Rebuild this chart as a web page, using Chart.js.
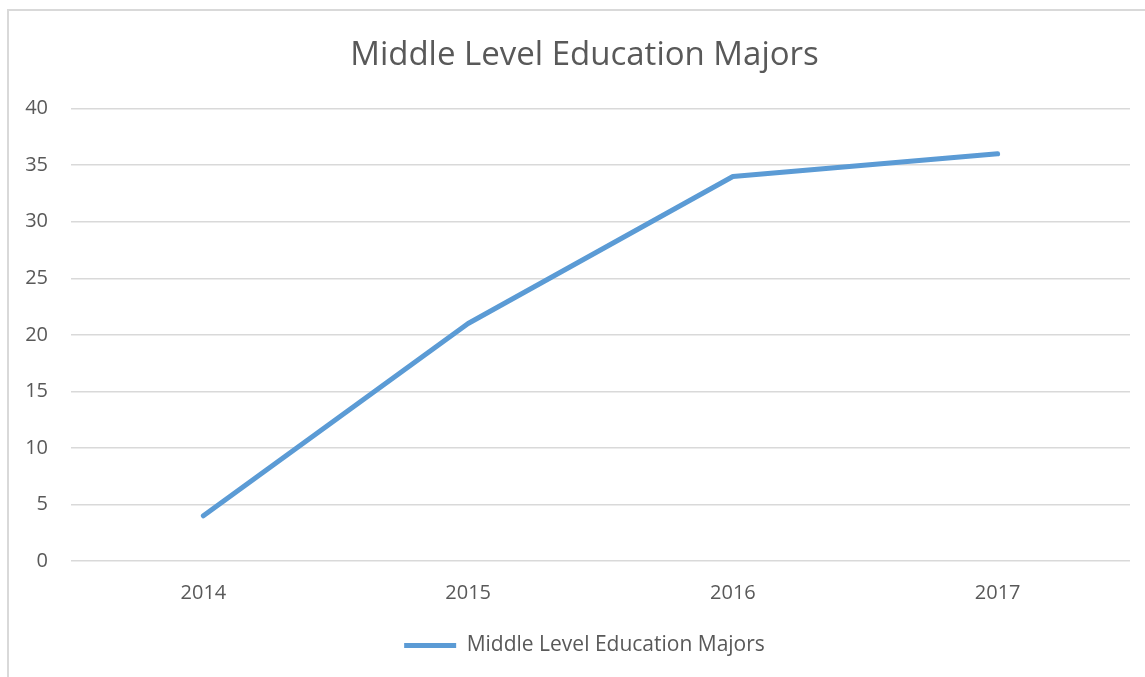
<!DOCTYPE html>
<html>
<head>
<meta charset="utf-8">
<script src="https://cdn.jsdelivr.net/npm/chart.js@4"></script>
<style>
  html, body { margin:0; padding:0; background:#fff; overflow:hidden; width:1145px; height:677px; }
  #frame { position:absolute; left:7px; top:9px; width:1200px; height:700px; border:2px solid #d9d9d9; box-sizing:border-box; }
  #wrap { position:absolute; left:0; top:0; width:1162px; height:677px; }
</style>
</head>
<body>
<div id="frame"></div>
<div id="wrap"><canvas id="chart"></canvas></div>
<script>
const years = ["2014", "2015", "2016", "2017"];
const majors = [4, 21, 34, 36];
const yTicks = [0, 5, 10, 15, 20, 25, 30, 35, 40];

const grey = "#595959";
const font = "Open Sans";

new Chart(document.getElementById("chart"), {
  type: "line",
  data: {
    labels: years,
    datasets: [{
      label: "Middle Level Education Majors",
      data: majors,
      borderColor: "#5b9bd5",
      backgroundColor: "#5b9bd5",
      borderWidth: 5,
      borderCapStyle: "round",
      borderJoinStyle: "round",
      pointRadius: 0,
      tension: 0,
      yAxisID: "y"
    }]
  },
  options: {
    responsive: true,
    maintainAspectRatio: false,
    devicePixelRatio: 1,
    animation: false,
    layout: { padding: { left: 7, right: 0, top: 0, bottom: 11 } },
    plugins: {
      title: {
        display: true,
        text: "Middle Level Education Majors",
        color: grey,
        font: { family: font, size: 33, weight: "normal" },
        padding: { top: 36, bottom: 33 }
      },
      legend: {
        position: "bottom",
        labels: {
          color: grey,
          font: { family: font, size: 21 },
          usePointStyle: true,
          pointStyle: "line",
          pointStyleWidth: 52,
          padding: 10
        }
      },
      tooltip: { enabled: false }
    },
    scales: {
      x: {
        offset: true,
        grid: { display: false },
        border: { display: false },
        ticks: { color: grey, font: { family: font, size: 20 }, padding: 12 },
        afterFit: s => { s.height = 64; }
      },
      y: {
        position: "left",
        min: yTicks[0],
        max: yTicks[yTicks.length - 1],
        grid: { color: "#d9d9d9", lineWidth: 1.5, drawTicks: false },
        border: { display: false },
        ticks: {
          stepSize: 5,
          color: grey,
          font: { family: font, size: 20 },
          padding: 23
        },
        afterFit: s => { s.width = 64; }
      },
      y2: {
        position: "right",
        grid: { display: false },
        border: { display: false },
        ticks: { display: false },
        afterFit: s => { s.width = 32; }
      }
    }
  }
});
</script>
</body>
</html>
